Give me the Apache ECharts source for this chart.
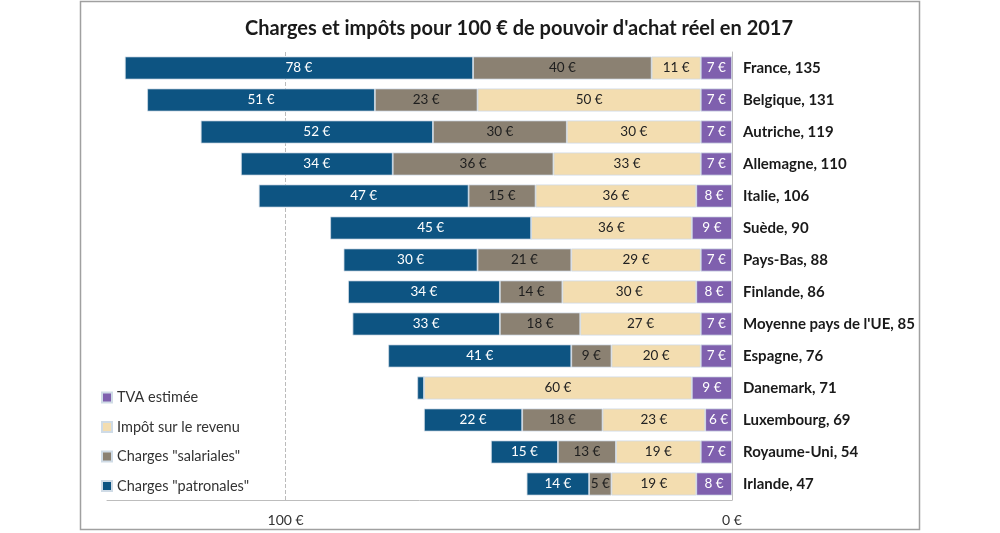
<!DOCTYPE html>
<html>
<head>
<meta charset="utf-8">
<script src="https://cdn.jsdelivr.net/npm/echarts@6/dist/echarts.min.js"></script>
<style>html,body{margin:0;padding:0;background:#fff;}#c{width:1000px;height:533px;}</style>
</head>
<body>
<div id="c"></div>
<script>
const countries = ["France, 135","Belgique, 131","Autriche, 119","Allemagne, 110","Italie, 106","Suède, 90","Pays-Bas, 88","Finlande, 86","Moyenne pays de l'UE, 85","Espagne, 76","Danemark, 71","Luxembourg, 69","Royaume-Uni, 54","Irlande, 47"];
const tva        = [7,7,7,7,8,9,7,8,7,7,9,6,7,8];
const impot      = [11,50,30,33,36,36,29,30,27,20,60,23,19,19];
const salariales = [40,23,30,36,15,0,21,14,18,9,0,18,13,5];
const patronales = [78,51,52,34,47,45,30,34,33,41,1.5,22,15,14];
const xTicks = [0,100];

const FONT = 'Lato';
function lbl(color){
  return {show:true, position:'inside', color:color, fontFamily:FONT, fontSize:13.5,
    formatter:p=> p.value>=3 ? p.value+' €' : ''};
}
const border = {borderColor:'#cfdbe6', borderWidth:0.8};
const chart = echarts.init(document.getElementById('c'));
chart.setOption({
  animation:false,
  backgroundColor:'#fff',
  textStyle:{fontFamily:FONT},
  title:{text:"Charges et impôts pour 100 € de pouvoir d'achat réel en 2017", left:514, textAlign:'center', top:14,
    textStyle:{fontFamily:FONT, fontSize:20, fontWeight:'bold', color:'#1a1a1a'}},
  graphic:[{type:'rect', shape:{x:80.5,y:1.5,width:839,height:528}, style:{fill:'none', stroke:'#a0a0a0', lineWidth:1.5}, silent:true}],
  legend:{orient:'vertical', left:96, top:385, itemWidth:10, itemHeight:10, itemGap:14.5, icon:'rect',
    textStyle:{fontFamily:FONT, fontSize:14.5, color:'#333'},
    data:['TVA estimée','Impôt sur le revenu','Charges "salariales"','Charges "patronales"']},
  grid:{left:107, right:268, top:52, bottom:33, containLabel:false},
  xAxis:{type:'value', inverse:true, min:0, max:140, interval:100,
    axisLine:{show:true, lineStyle:{color:'#bdbdbd'}}, axisTick:{show:false},
    axisLabel:{color:'#333', fontFamily:FONT, fontSize:14, margin:13, showMaxLabel:false,
      formatter:v=> xTicks.indexOf(v)>=0 ? v+' €' : ''},
    splitLine:{show:true, showMinLine:false, showMaxLine:false, lineStyle:{color:'#bbbbbb', type:'dashed'}}},
  yAxis:{type:'category', inverse:true, position:'right', data:countries,
    axisLine:{show:true, lineStyle:{color:'#bdbdbd'}}, axisTick:{show:false},
    axisLabel:{color:'#1a1a1a', fontFamily:FONT, fontSize:15, fontWeight:'bold', margin:11}},
  series:[
    {name:'TVA estimée', type:'bar', stack:'t', barCategoryGap:'28%', data:tva,
      itemStyle:Object.assign({color:'#7f60ae'},border), label:lbl('#ffffff')},
    {name:'Impôt sur le revenu', type:'bar', stack:'t', data:impot,
      itemStyle:Object.assign({color:'#f3ddb0'},border), label:lbl('#222222')},
    {name:'Charges "salariales"', type:'bar', stack:'t', data:salariales,
      itemStyle:Object.assign({color:'#8b8172'},border), label:lbl('#1e1e1e')},
    {name:'Charges "patronales"', type:'bar', stack:'t', data:patronales,
      itemStyle:Object.assign({color:'#0d5482'},border), label:lbl('#ffffff')}
  ]
});
</script>
</body>
</html>
